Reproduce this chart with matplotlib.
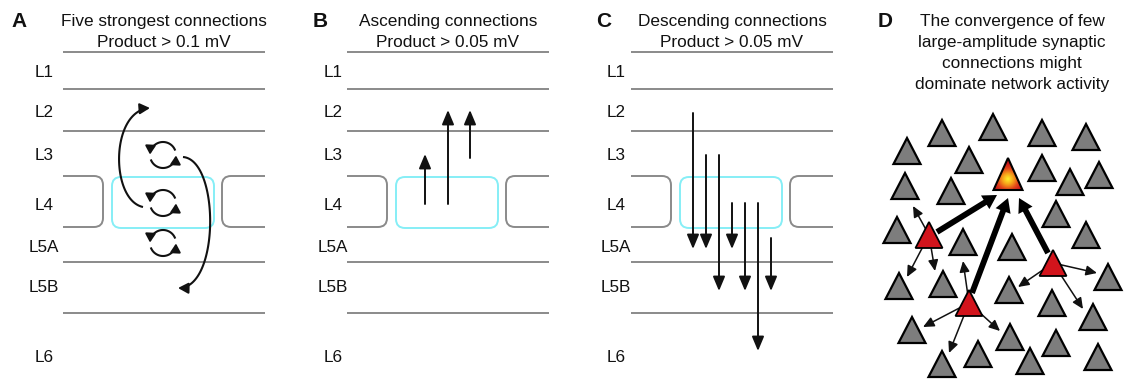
import numpy as np
import matplotlib.pyplot as plt
from matplotlib.patches import FancyArrowPatch, FancyBboxPatch, PathPatch, Polygon
from matplotlib.path import Path
from matplotlib.colors import LinearSegmentedColormap

plt.rcParams['font.family'] = ['Liberation Sans', 'DejaVu Sans']

# --- layer schematic (pixel coords, y grows downward) ---
layer_names = ['L1', 'L2', 'L3', 'L4', 'L5A', 'L5B', 'L6']
layer_label_y = [72, 112, 155, 205, 247, 288, 357]
boundary_y = [52, 89, 131, 262, 313]
l4_top, l4_bot = 176, 227
panel_x0 = [63, 347, 631]
panel_w = 202
label_x = [44, 333, 616]

letters = ['A', 'B', 'C', 'D']
letter_x = [19, 320, 604, 885]
titles = [
    ['Five strongest connections', 'Product > 0.1 mV'],
    ['Ascending connections', 'Product > 0.05 mV'],
    ['Descending connections', 'Product > 0.05 mV'],
    ['The convergence of few', 'large-amplitude synaptic',
     'connections might', 'dominate network activity'],
]

# panel A: recurrent loops within a layer, and two long curved connections
loop_y = [155, 203, 243]
curve_up = [(143, 207), (110, 200), (110, 110), (150, 108)]
curve_down = [(183, 157), (220, 160), (220, 290), (178, 288)]

# panel B: ascending (x offset in panel, from y, to y)
asc_x = [78, 101, 123]
asc_from = [204, 204, 158]
asc_to = [154, 110, 110]

# panel C: descending
desc_x = [62, 75, 88, 101, 114, 127, 140]
desc_from = [113, 155, 155, 203, 203, 203, 238]
desc_to = [249, 249, 291, 249, 291, 351, 291]

# panel D: network of neurons
grey_x = [942, 993, 1042, 1086, 907, 969, 1042, 1070, 1099, 905, 951, 1056,
          897, 963, 1012, 1086, 899, 943, 1009, 1108, 1052, 1093, 912, 1010,
          978, 1056, 942, 1030, 1098]
grey_y = [133, 127, 133, 137, 151, 160, 168, 182, 175, 186, 191, 214,
          230, 242, 247, 235, 286, 284, 290, 277, 303, 317, 330, 337,
          354, 343, 364, 361, 357]
red_x = [929, 1053, 969]
red_y = [235, 263, 303]
hub = (1008, 174)
thick_from = [(937, 232), (972, 293), (1048, 253)]
thick_to = [(997, 195), (1008, 198), (1019, 198)]
thin_src = [0, 0, 0, 2, 2, 2, 2, 1, 1, 1]
thin_to = [(913, 206), (907, 277), (935, 271),
           (963, 261), (923, 327), (949, 353), (1000, 331),
           (1018, 287), (1097, 273), (1083, 309)]

fig = plt.figure(figsize=(11.24, 3.92), dpi=100)
ax = fig.add_axes([0, 0, 1, 1])
ax.set_xlim(0, 1124)
ax.set_ylim(392, 0)
ax.axis('off')

grey = '#8a8a8a'
cyan = '#86eef6'
ink = '#111111'


def arrow(p0, p1, lw=1.4, hl=0.86, hw=0.36, z=3):
    ax.add_patch(FancyArrowPatch(p0, p1, arrowstyle=f'-|>,head_length={hl},head_width={hw}',
                                 mutation_scale=10, lw=lw, color=ink,
                                 shrinkA=0, shrinkB=0, zorder=z))


def curve_arrow(xs, ys, lw=1.5, hl=0.5, hw=0.3):
    # line along the points, arrowhead laid along the end tangent
    head_px = hl * 10 * 100 / 72
    keep = np.hypot(xs - xs[-1], ys - ys[-1]) > head_px * 0.8
    ax.plot(xs[keep], ys[keep], color=ink, lw=lw, solid_capstyle='butt', zorder=3)
    d = np.array([xs[-1] - xs[-2], ys[-1] - ys[-2]])
    d = d / np.hypot(*d)
    tail = (xs[-1] - (head_px + 0.8) * d[0], ys[-1] - (head_px + 0.8) * d[1])
    arrow(tail, (xs[-1], ys[-1]), lw=lw, hl=hl, hw=hw)


for i, x0 in enumerate(panel_x0):
    for y in boundary_y:
        ax.plot([x0, x0 + panel_w], [y, y], color=grey, lw=1.4, solid_capstyle='butt')
    r = 9
    xv = x0 + 40
    verts = [(x0, l4_top), (xv - r, l4_top), (xv, l4_top), (xv, l4_top + r),
             (xv, l4_bot - r), (xv, l4_bot), (xv - r, l4_bot), (x0, l4_bot)]
    codes = [Path.MOVETO, Path.LINETO, Path.CURVE3, Path.CURVE3,
             Path.LINETO, Path.CURVE3, Path.CURVE3, Path.LINETO]
    ax.add_patch(PathPatch(Path(verts, codes), fill=False, ec=grey, lw=1.4))
    xv = x0 + 159
    xe = x0 + panel_w
    verts = [(xe, l4_top), (xv + r, l4_top), (xv, l4_top), (xv, l4_top + r),
             (xv, l4_bot - r), (xv, l4_bot), (xv + r, l4_bot), (xe, l4_bot)]
    ax.add_patch(PathPatch(Path(verts, codes), fill=False, ec=grey, lw=1.4))
    ax.add_patch(FancyBboxPatch((x0 + 49, l4_top + 1), 102, l4_bot - l4_top,
                                boxstyle='round,pad=0,rounding_size=9',
                                fill=False, ec=cyan, lw=1.4))
    for name, y in zip(layer_names, layer_label_y):
        ax.text(label_x[i], y, name, ha='center', va='center', fontsize=12.3, color=ink)

for i, lines in enumerate(titles):
    cx = panel_x0[i] + 101 if i < 3 else 1012
    for j, t in enumerate(lines):
        ax.text(cx, 21 + 21 * j, t, ha='center', va='center', fontsize=12.4, color=ink)
    ax.text(letter_x[i], 21, letters[i], ha='center', va='center', fontsize=15,
            fontweight='bold', color=ink)

# panel A
cx = panel_x0[0] + 100
rad = 13
for cy in loop_y:
    for a0, a1 in [(20, 178), (200, 358)]:
        t = np.radians(np.linspace(a0, a1, 80))
        curve_arrow(cx + rad * np.cos(t), cy - rad * np.sin(t), hl=0.5, hw=0.3)

tt = np.linspace(0, 1, 120)[:, None]
for P in (curve_up, curve_down):
    P = np.array(P, dtype=float)
    B = ((1 - tt) ** 3 * P[0] + 3 * (1 - tt) ** 2 * tt * P[1]
         + 3 * (1 - tt) * tt ** 2 * P[2] + tt ** 3 * P[3])
    curve_arrow(B[:, 0], B[:, 1], hl=0.6, hw=0.32)

# panel B
for x, y0, y1 in zip(asc_x, asc_from, asc_to):
    arrow((panel_x0[1] + x, y0), (panel_x0[1] + x, y1))

# panel C
for x, y0, y1 in zip(desc_x, desc_from, desc_to):
    arrow((panel_x0[2] + x, y0), (panel_x0[2] + x, y1))


# panel D
def tri(cx, cy, w=27, h=26):
    return [(cx, cy - h / 2), (cx - w / 2, cy + h / 2), (cx + w / 2, cy + h / 2)]


for x, y in zip(grey_x, grey_y):
    ax.add_patch(Polygon(tri(x, y), closed=True, fc='#7d7d7d', ec='black', lw=1.6,
                         joinstyle='miter', zorder=2))

for k, p in enumerate(thin_to):
    s = thin_src[k]
    arrow((red_x[s], red_y[s]), p, lw=1.1, hl=0.65, hw=0.3, z=4)

for p0, p1 in zip(thick_from, thick_to):
    ax.add_patch(FancyArrowPatch(p0, p1, arrowstyle='simple,head_length=1.0,head_width=1.15,tail_width=0.42',
                                 mutation_scale=10, lw=0, color='black',
                                 shrinkA=0, shrinkB=0, zorder=4))

for x, y in zip(red_x, red_y):
    ax.add_patch(Polygon(tri(x, y), closed=True, fc='#d2141c', ec='black', lw=1.3,
                         joinstyle='miter', zorder=5))

# hub neuron with yellow-to-red glow
hub_tri = Polygon(tri(hub[0], hub[1], w=29, h=32), closed=True, fc='none',
                  ec='black', lw=1.5, joinstyle='miter', zorder=6)
ax.add_patch(hub_tri)
gx, gy = np.meshgrid(np.linspace(-16, 16, 80), np.linspace(-17, 17, 80))
dist = np.hypot(gx, gy - 5) / 16
cmap = LinearSegmentedColormap.from_list('glow', ['#fff22a', '#f7a51a', '#e2431a', '#c8141a'])
im = ax.imshow(dist, cmap=cmap, vmin=0, vmax=1,
               extent=(hub[0] - 16, hub[0] + 16, hub[1] + 17, hub[1] - 17),
               aspect='auto', zorder=5.5, interpolation='bilinear')
im.set_clip_path(hub_tri)

ax.set_xlim(0, 1124)
ax.set_ylim(392, 0)
fig.savefig('out.png', dpi=100)
